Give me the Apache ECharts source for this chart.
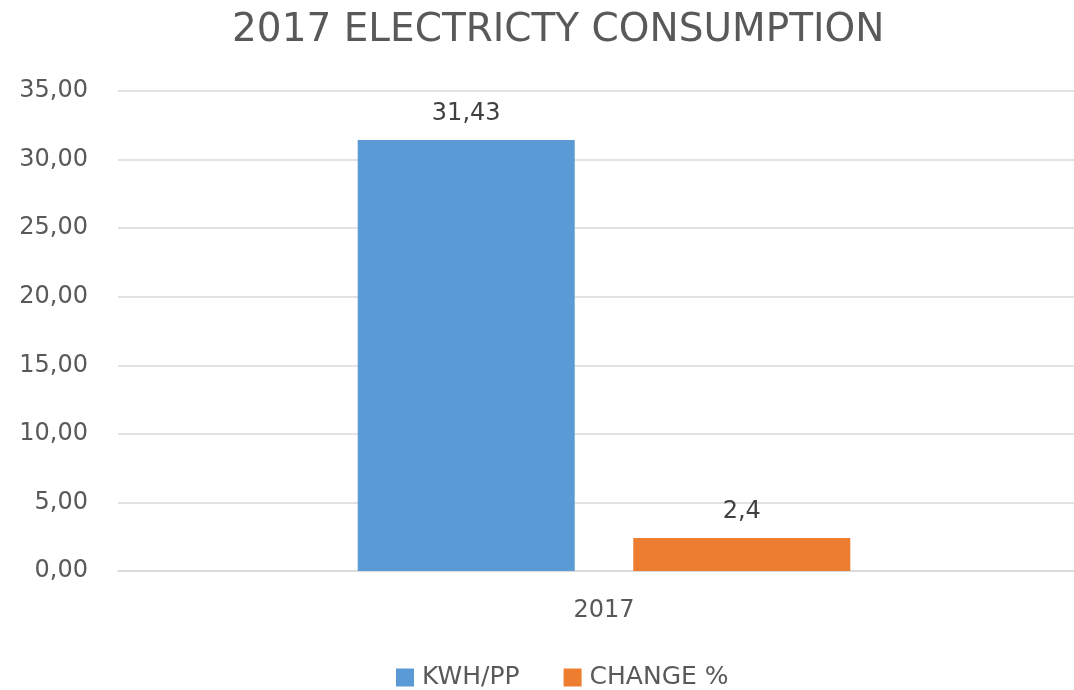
<!DOCTYPE html>
<html>
<head>
<meta charset="utf-8">
<script src="https://cdn.jsdelivr.net/npm/echarts@6/dist/echarts.min.js"></script>
<style>html,body{margin:0;padding:0;background:#fff}#c{width:1074px;height:690px}</style>
</head>
<body>
<div id="c"></div>
<script>
const categories = ['2017'];
const kwhValues = [31.43];
const changeValues = [2.4];
const seriesNames = ['KWH/PP', 'CHANGE %'];
const titleText = '2017 ELECTRICTY CONSUMPTION';

const chart = echarts.init(document.getElementById('c'));
const font = 'DejaVu Sans';
const comma = v => String(v).replace('.', ',');
chart.setOption({
  animation: false,
  title: {
    text: titleText, left: 227, top: 6,
    textStyle: { fontFamily: font, fontSize: 39, fontWeight: 'normal', color: '#595959' }
  },
  legend: {
    top: 660, left: 391, itemWidth: 18, itemHeight: 18, itemGap: 44,
    icon: 'rect',
    textStyle: { fontFamily: font, fontSize: 25, color: '#595959', padding: [0, 0, 0, 3] }
  },
  grid: { left: 118, right: -16, top: 91, bottom: 119, outerBoundsMode: 'none', containLabel: false },
  xAxis: {
    type: 'category', data: categories,
    axisLine: { lineStyle: { color: '#D9D9D9', width: 1.5 } },
    axisTick: { show: false },
    axisLabel: { fontFamily: font, fontSize: 24, color: '#595959', margin: 28 }
  },
  yAxis: {
    type: 'value', min: 0, max: 35, interval: 5,
    axisLine: { show: false }, axisTick: { show: false },
    splitLine: { lineStyle: { color: '#D9D9D9', width: 1.5 } },
    axisLabel: {
      fontFamily: font, fontSize: 24, color: '#595959', margin: 30,
      formatter: v => v.toFixed(2).replace('.', ',')
    }
  },
  series: [
    {
      name: seriesNames[0], type: 'bar', data: kwhValues, barWidth: 217, barGap: '27%',
      itemStyle: { color: '#5B9BD5' },
      label: { show: true, position: 'top', distance: 14, fontFamily: font, fontSize: 24, color: '#404040',
        formatter: p => comma(p.value) }
    },
    {
      name: seriesNames[1], type: 'bar', data: changeValues, barWidth: 217,
      itemStyle: { color: '#ED7D31' },
      label: { show: true, position: 'top', distance: 14, fontFamily: font, fontSize: 24, color: '#404040',
        formatter: p => comma(p.value) }
    }
  ]
});
</script>
</body>
</html>
